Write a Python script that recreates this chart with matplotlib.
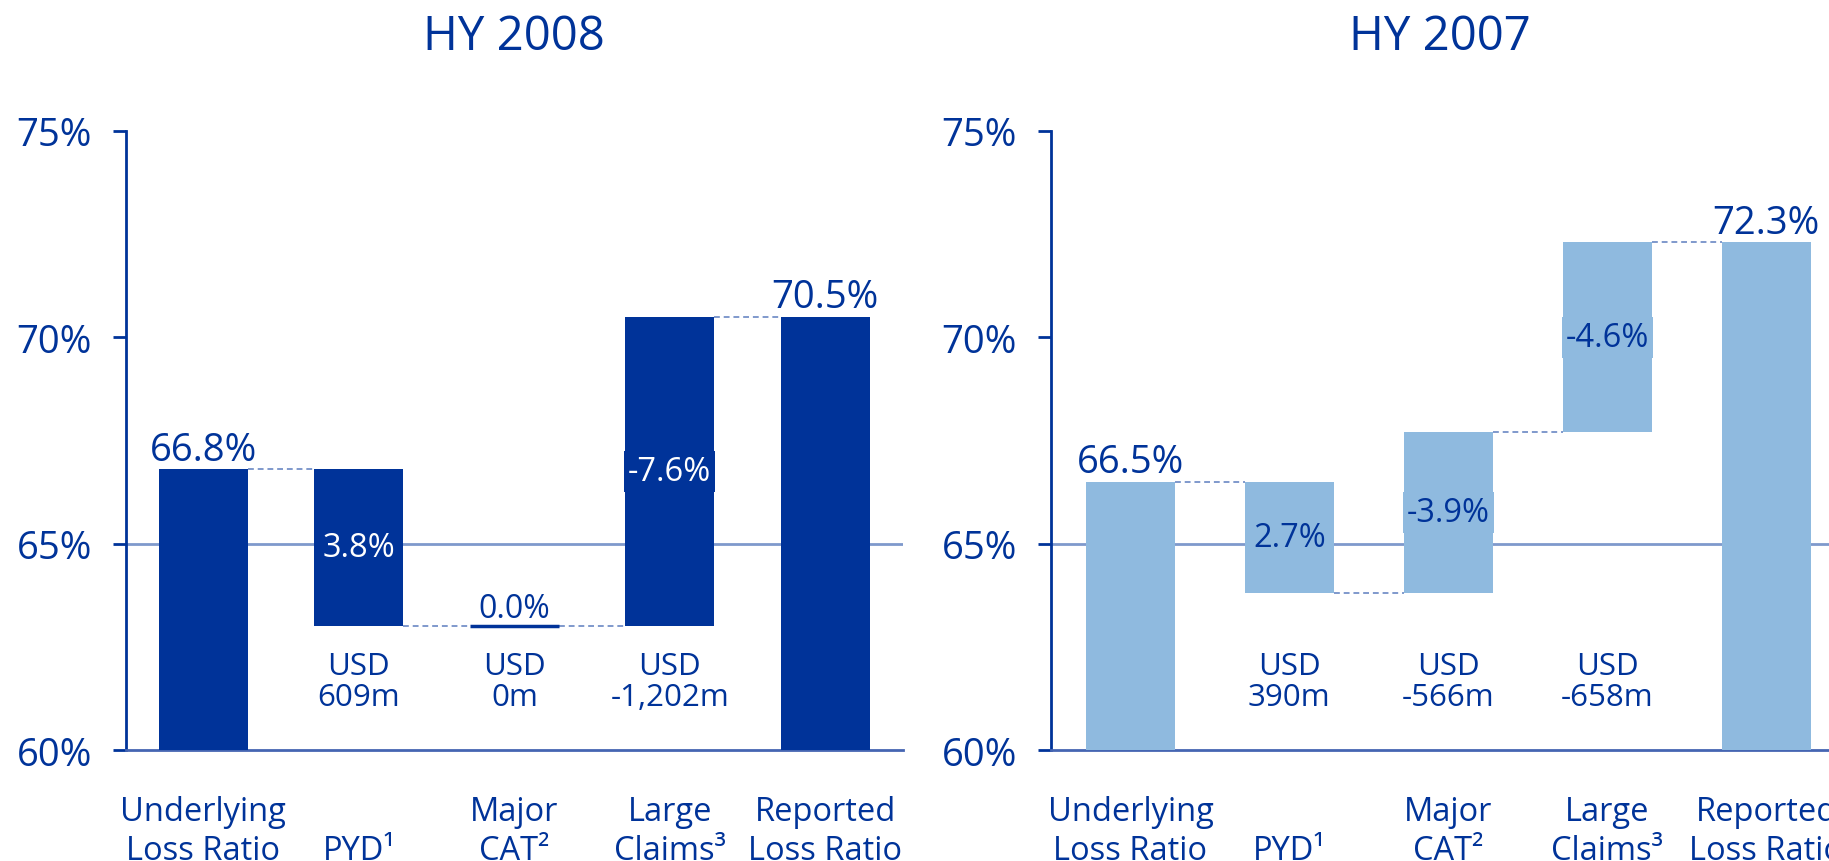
import matplotlib
matplotlib.use('Agg')
import matplotlib.pyplot as plt
import numpy as np

plt.rcParams['font.family'] = ['Open Sans', 'DejaVu Sans']

# Categories shared by both panels
categories = ['Underlying\nLoss Ratio', '\nPYD¹', 'Major\nCAT²',
              'Large\nClaims³', 'Reported\nLoss Ratio']

# HY 2008: printed values and the running loss ratio after each step
hy2008_values = [66.8, 3.8, 0.0, -7.6, 70.5]
hy2008_levels = [66.8, 63.0, 63.0, 70.5, 70.5]
hy2008_usd = ['', 'USD\n609m', 'USD\n0m', 'USD\n-1,202m', '']

# HY 2007
hy2007_values = [66.5, 2.7, -3.9, -4.6, 72.3]
hy2007_levels = [66.5, 63.8, 67.7, 72.3, 72.3]
hy2007_usd = ['', 'USD\n390m', 'USD\n-566m', 'USD\n-658m', '']

y_ticks = [60, 65, 70, 75]

DARK = '#003399'
LIGHT = '#8FBADF'
GRID = '#7F99CC'
BASE_LINE = '#4565B2'
TEXT = '#003399'
BASE = 60

W, H = 1829, 862


def draw_panel(ax, values, levels, usd, color, inner_color, width):
    """Draw one waterfall panel."""
    n = len(categories)
    x = np.arange(n)
    bottoms, tops = [], []
    for i in range(n):
        if i == 0 or i == n - 1:
            bottoms.append(BASE)
            tops.append(levels[i])
        else:
            bottoms.append(min(levels[i - 1], levels[i]))
            tops.append(max(levels[i - 1], levels[i]))
    bottoms = np.array(bottoms)
    tops = np.array(tops)
    heights = tops - bottoms

    ax.axhline(65, color=GRID, lw=2, zorder=1)
    ax.bar(x, heights, bottom=bottoms, width=width, color=color,
           linewidth=0, zorder=3)

    # zero-size steps show as a flat line
    for i in range(n):
        if heights[i] == 0:
            ax.hlines(bottoms[i], x[i] - width / 2, x[i] + width / 2,
                      color=color, lw=2.5, zorder=3)

    # dashed connectors between bars
    for i in range(n - 1):
        ax.hlines(levels[i], x[i] + width / 2, x[i + 1] - width / 2,
                  color=GRID, lw=1.4, linestyles=(0, (3, 2)), zorder=2)

    for i in range(n):
        if i == 0 or i == n - 1:
            ax.annotate(f'{values[i]:.1f}%', (x[i], tops[i]),
                        xytext=(0, 7), textcoords='offset points',
                        ha='center', va='baseline', fontsize=27.5,
                        color=TEXT, zorder=5)
        elif heights[i] == 0:
            ax.annotate(f'{values[i]:.1f}%', (x[i], tops[i]),
                        xytext=(0, 7), textcoords='offset points',
                        ha='center', va='baseline', fontsize=23,
                        color=TEXT, zorder=5)
        else:
            ax.text(x[i], (bottoms[i] + tops[i]) / 2, f'{values[i]:.1f}%',
                    ha='center', va='center', fontsize=23.5, color=inner_color,
                    zorder=5,
                    bbox=dict(boxstyle='square,pad=0.12', fc=color, ec='none'))
        if usd[i]:
            ax.text(x[i], 61.1, usd[i], ha='center', va='baseline',
                    fontsize=22.5, color=TEXT, linespacing=1.02)

    ax.set_xlim(-0.5, n - 0.5)
    ax.set_ylim(60, 75)
    ax.set_xticks(x)
    ax.set_xticklabels(categories, fontsize=23.5, color=TEXT, linespacing=1.25)
    ax.set_yticks(y_ticks)
    ax.set_yticklabels([f'{v}%' for v in y_ticks], fontsize=27.5, color=TEXT)
    ax.tick_params(axis='x', length=0, pad=32)
    ax.tick_params(axis='y', direction='out', length=9.4, width=2,
                   color=DARK, pad=15)
    for side in ('top', 'right'):
        ax.spines[side].set_visible(False)
    ax.spines['left'].set_color(DARK)
    ax.spines['left'].set_linewidth(2)
    ax.spines['bottom'].set_color(BASE_LINE)
    ax.spines['bottom'].set_linewidth(2)
    ax.set_facecolor('none')


fig = plt.figure(figsize=(W / 100, H / 100), dpi=100)

ax1 = fig.add_axes([125.7 / W, 110.7 / H, 777.3 / W, 619.6 / H])
draw_panel(ax1, hy2008_values, hy2008_levels, hy2008_usd, DARK, 'white', 0.572)

ax2 = fig.add_axes([1051 / W, 110.7 / H, 794.5 / W, 619.6 / H])
draw_panel(ax2, hy2007_values, hy2007_levels, hy2007_usd, LIGHT, TEXT, 0.56)

fig.text(514 / W, 1 - 50 / H, 'HY 2008', ha='center', va='baseline',
         fontsize=34, color=TEXT)
fig.text(1440 / W, 1 - 50 / H, 'HY 2007', ha='center', va='baseline',
         fontsize=34, color=TEXT)

fig.savefig('out.png', dpi=100)
